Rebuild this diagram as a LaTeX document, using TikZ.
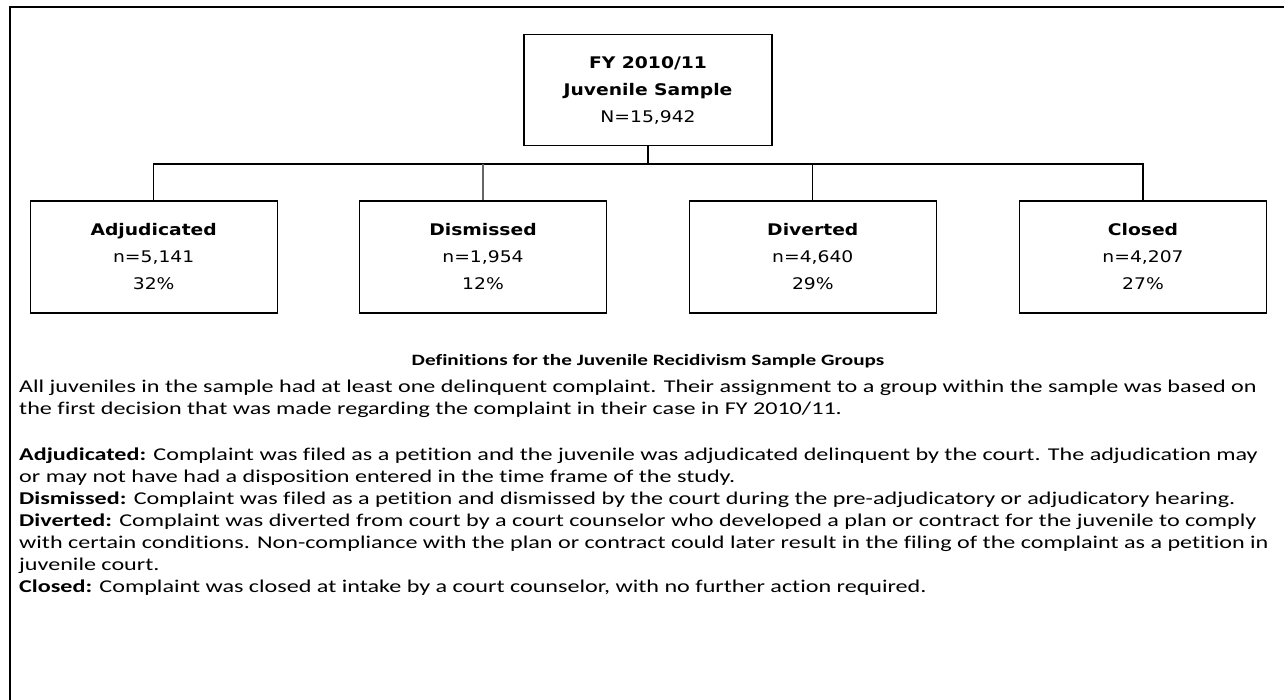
\documentclass[tikz,border=0pt]{standalone}
\usepackage{fontspec}
\setmainfont{Carlito}[FakeStretch=1.34,Ligatures=NoCommon]
\newfontfamily\boxfont{DejaVu Sans}[FakeStretch=1.17]
\begin{document}
\begin{tikzpicture}[x=1pt,y=-1pt,
  box/.style={draw=black,line width=1.3pt,align=center,inner sep=0pt,
    font=\boxfont\fontsize{16}{27}\selectfont},
  topbox/.style={box,minimum width=248pt,minimum height=111pt},
  grpbox/.style={box,minimum width=247pt,minimum height=112pt},
  conn/.style={line width=1.3pt},
  body/.style={anchor=base west,inner sep=0pt,font=\fontsize{18}{22}\selectfont},
  frame/.style={line width=2pt}]
\useasboundingbox (0,0) rectangle (1284,700);
\fill[white] (0,0) rectangle (1284,700);
\draw[frame] (10,700) -- (10,7) -- (1284,7);

\node[topbox] (top) at (648,90) {\textbf{FY 2010/11}\\\textbf{Juvenile Sample}\\N=15,942};
\node[grpbox] (adj) at (153.7,257) {\textbf{Adjudicated}\\n=5,141\\32\%};
\node[grpbox] (dis) at (483,257) {\textbf{Dismissed}\\n=1,954\\12\%};
\node[grpbox] (div) at (812.8,257) {\textbf{Diverted}\\n=4,640\\29\%};
\node[grpbox] (clo) at (1143,257) {\textbf{Closed}\\n=4,207\\27\%};

\coordinate (bus) at (648,164);
\draw[conn] (top.south) -- (bus);
\draw[conn] (adj.north) -- (adj.north |- bus) -- (clo.north |- bus) -- (clo.north);
\draw[conn] (div.north) -- (div.north |- bus);
\draw[line width=1.1pt,black!60] (dis.north) -- (dis.north |- bus);

\node[anchor=base,inner sep=0pt,font=\bfseries\fontsize{15.8}{20}\selectfont] (title) at (648,365) {Definitions for the Juvenile Recidivism Sample Groups};
\node[body] (l1) at (19,392) {All juveniles in the sample had at least one delinquent complaint. Their assignment to a group within the sample was based on};
\node[body] (l2) at (19,414) {the first decision that was made regarding the complaint in their case in FY 2010/11.};
\node[body] (l3) at (19,460) {\textbf{Adjudicated:} Complaint was filed as a petition and the juvenile was adjudicated delinquent by the court. The adjudication may};
\node[body] (l4) at (19,482) {or may not have had a disposition entered in the time frame of the study.};
\node[body] (l5) at (19,504) {\textbf{Dismissed:} Complaint was filed as a petition and dismissed by the court during the pre-adjudicatory or adjudicatory hearing.};
\node[body] (l6) at (19,526) {\textbf{Diverted:} Complaint was diverted from court by a court counselor who developed a plan or contract for the juvenile to comply};
\node[body] (l7) at (19,548) {with certain conditions. Non-compliance with the plan or contract could later result in the filing of the complaint as a petition in};
\node[body] (l8) at (19,570) {juvenile court.};
\node[body] (l9) at (19,592) {\textbf{Closed:} Complaint was closed at intake by a court counselor, with no further action required.};
\end{tikzpicture}
\end{document}
